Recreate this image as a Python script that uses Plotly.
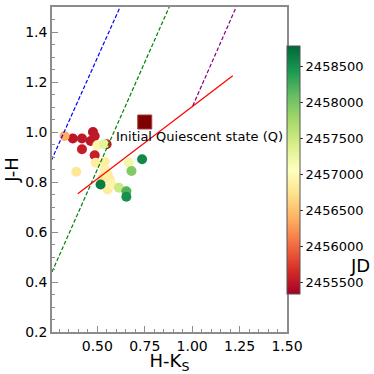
import plotly.graph_objects as go

# observed colours (H-K, J-H) and epoch (JD)
hk = [0.327, 0.371, 0.419, 0.419, 0.477, 0.486, 0.465, 0.549, 0.486,
      0.500, 0.535, 0.491, 0.539, 0.389, 0.539, 0.554, 0.565, 0.528,
      0.576, 0.554, 0.517, 0.614, 0.653, 0.653, 0.666, 0.680, 0.736]
jh = [0.984, 0.974, 0.974, 0.931, 1.000, 0.984, 0.964, 0.951, 0.907,
      0.947, 0.951, 0.877, 0.880, 0.841, 0.850, 0.830, 0.810, 0.818,
      0.790, 0.770, 0.790, 0.777, 0.763, 0.741, 0.877, 0.844, 0.891]
jd = [2456380, 2455500, 2455510, 2455550, 2455490, 2455520, 2455500, 2455530, 2455560,
      2456950, 2457300, 2456850, 2456870, 2456800, 2456900, 2456880, 2456850, 2456780,
      2456920, 2456860, 2458650, 2457500, 2458200, 2458500, 2457200, 2457950, 2458550]

# quiescent state
q_hk = [0.75]
q_jh = [1.04]

# reference lines
blue_x = [0.258, 0.623]
blue_y = [0.887, 1.505]
green_x = [0.261, 0.882]
green_y = [0.440, 1.505]
purple_x = [1.003, 1.235]
purple_y = [1.104, 1.505]
ctts_x = [0.397, 1.214]
ctts_y = [0.753, 1.225]

order = sorted(range(len(jd)), key=lambda i: jd[i])
hk = [hk[i] for i in order]
jh = [jh[i] for i in order]
jd = [jd[i] for i in order]

font = 'DejaVu Sans'
grey = '#8c8c8c'

fig = go.Figure()
fig.add_trace(go.Scatter(x=hk, y=jh, mode='markers', showlegend=False,
                         marker={'size': 10, 'color': jd, 'colorscale': 'RdYlGn',
                                 'cmin': 2455338, 'cmax': 2458789, 'line': {'width': 0},
                                 'colorbar': {'x': 1, 'xanchor': 'left', 'xpad': 0,
                                              'y': 0.118, 'yanchor': 'bottom', 'ypad': 0,
                                              'len': 0.762, 'lenmode': 'fraction',
                                              'thickness': 13, 'outlinecolor': '#555555',
                                              'outlinewidth': 1, 'ticks': 'outside',
                                              'ticklen': 3, 'tickcolor': '#333333',
                                              'tickvals': [2455500, 2456000, 2456500, 2457000,
                                                           2457500, 2458000, 2458500],
                                              'tickformat': 'd',
                                              'tickfont': {'size': 13, 'family': font,
                                                           'color': 'black'}}}))
fig.add_trace(go.Scatter(x=q_hk, y=q_jh, mode='markers', showlegend=False,
                         marker={'symbol': 'square', 'size': 14, 'color': '#7f0000',
                                 'line': {'width': 1, 'color': '#a83a3a'}}))
for xs, ys, col, dash in [(blue_x, blue_y, 'blue', 'dash'),
                          (green_x, green_y, 'green', 'dash'),
                          (purple_x, purple_y, 'purple', 'dash'),
                          (ctts_x, ctts_y, 'red', 'solid')]:
    fig.add_trace(go.Scatter(x=xs, y=ys, mode='lines', showlegend=False,
                             line={'color': col, 'width': 1.2, 'dash': dash if dash == 'solid' else '4px,2px'}))

fig.add_annotation(x=0.59, y=0.984, text='Initial Quiescent state (Q)', showarrow=False,
                   xanchor='left', yanchor='middle', font={'size': 13, 'family': font, 'color': 'black'})
fig.add_annotation(x=1.31, xref='paper', y=0.206, yref='paper', text='JD', showarrow=False,
                   xanchor='center', yanchor='middle', font={'size': 18, 'family': font, 'color': 'black'})

axis = dict(showline=True, linecolor=grey, linewidth=1.5, mirror=True, showgrid=False,
            zeroline=False, ticks='inside', ticklen=6, tickwidth=1, tickcolor=grey,
            tickfont={'size': 14, 'family': font, 'color': 'black'},
            minor={'ticks': 'inside', 'ticklen': 3, 'tickcolor': grey, 'dtick': 0.05, 'showgrid': False})

fig.update_layout(
    width=374, height=374,
    margin={'l': 52, 'r': 87, 't': 7, 'b': 42, 'autoexpand': False},
    plot_bgcolor='white', paper_bgcolor='white',
    xaxis=dict(axis, range=[0.261, 1.5], tickvals=[0.5, 0.75, 1.0, 1.25, 1.5],
               ticktext=['0.50', '0.75', '1.00', '1.25', '1.50'],
               title={'text': 'H-K<sub>S</sub>', 'font': {'size': 18, 'family': font, 'color': 'black'},
                      'standoff': 0}),
    yaxis=dict(axis, range=[0.2, 1.5], tickvals=[0.2, 0.4, 0.6, 0.8, 1.0, 1.2, 1.4],
               ticktext=['0.2', '0.4', '0.6', '0.8', '1.0', '1.2', '1.4'],
               title={'text': 'J-H', 'font': {'size': 18, 'family': font, 'color': 'black'},
                      'standoff': 2}),
)
fig.write_html('out.html', config={'displayModeBar': False},
               post_script="document.body.style.margin='0px';")
